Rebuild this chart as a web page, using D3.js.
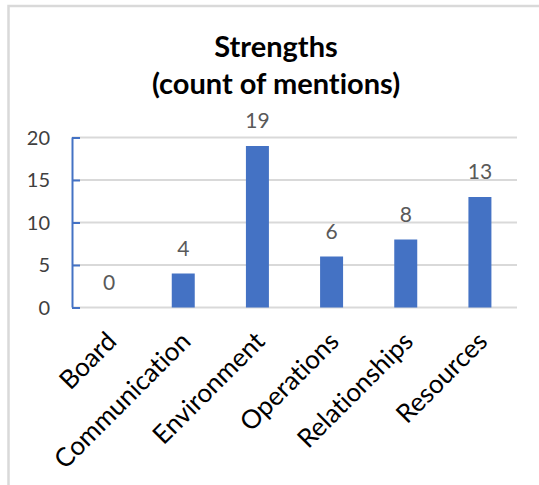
<!DOCTYPE html>
<html>
<head>
<meta charset="utf-8">
<script src="https://cdn.jsdelivr.net/npm/d3@7/dist/d3.min.js"></script>
<style>
  html, body { margin: 0; padding: 0; background: #ffffff; }
  svg { display: block; }
  text { font-family: Lato, "Open Sans", "DejaVu Sans", sans-serif; font-variant-ligatures: none; font-feature-settings: "liga" 0, "dlig" 0; }
</style>
</head>
<body>
<script>
const categories = ["Board", "Communication", "Environment", "Operations", "Relationships", "Resources"];
const counts = [0, 4, 19, 6, 8, 13];
const yTicks = [0, 5, 10, 15, 20];
const titleLines = ["Strengths", "(count of mentions)"];

const W = 539, H = 485;
const svg = d3.select("body").append("svg").attr("width", W).attr("height", H);
svg.append("rect").attr("width", W).attr("height", H).attr("fill", "#ffffff");

// chart border (partially cropped)
svg.append("rect").attr("x", 8.5).attr("y", 6).attr("width", 700).attr("height", 700)
  .attr("fill", "none").attr("stroke", "#d9d9d9").attr("stroke-width", 2.5);

const x = d3.scaleBand().domain(categories).range([72, 517]).paddingInner(0.69).paddingOuter(0.345);
const y = d3.scaleLinear().domain([0, 20]).range([307.5, 137.5]);

// title
svg.append("g").selectAll("text").data(titleLines).join("text")
  .attr("x", 276).attr("y", (d, i) => 57 + i * 37)
  .attr("text-anchor", "middle").attr("font-weight", "bold").attr("font-size", 29)
  .attr("fill", "#000000").text(d => d);

// gridlines
svg.append("g").selectAll("line").data(yTicks).join("line")
  .attr("x1", 72).attr("x2", 517).attr("y1", d => y(d)).attr("y2", d => y(d))
  .attr("stroke", "#d9d9d9").attr("stroke-width", 2);

// bars
svg.append("g").selectAll("rect").data(counts).join("rect")
  .attr("x", (d, i) => x(categories[i])).attr("width", x.bandwidth())
  .attr("y", d => y(d)).attr("height", d => y(0) - y(d))
  .attr("fill", "#4472C4");

// value labels
svg.append("g").selectAll("text").data(counts).join("text")
  .attr("x", (d, i) => x(categories[i]) + x.bandwidth() / 2)
  .attr("y", d => y(d) - 18)
  .attr("text-anchor", "middle").attr("font-size", 21).attr("fill", "#595959")
  .text(d => d);

// y axis
const yAxis = d3.axisRight(y).tickValues(yTicks).tickSize(8).tickFormat("");
const ya = svg.append("g").attr("transform", "translate(72,0)").call(yAxis);
ya.select(".domain").attr("stroke", "#4472C4").attr("stroke-width", 2).attr("d", `M0.5,${y(20)}V${y(0)}`);
ya.selectAll(".tick line").attr("stroke", "#4472C4").attr("stroke-width", 2);

svg.append("g").selectAll("text").data(yTicks).join("text")
  .attr("x", 50).attr("y", d => y(d)).attr("dy", "0.36em")
  .attr("text-anchor", "end").attr("font-size", 20).attr("fill", "#404040")
  .text(d => d);

// category labels
svg.append("g").selectAll("text").data(categories).join("text")
  .attr("transform", d => `translate(${x(d) + x.bandwidth() / 2 + 9},343) rotate(-45)`)
  .attr("text-anchor", "end").attr("font-size", 26).attr("fill", "#000000")
  .text(d => d);
</script>
</body>
</html>
